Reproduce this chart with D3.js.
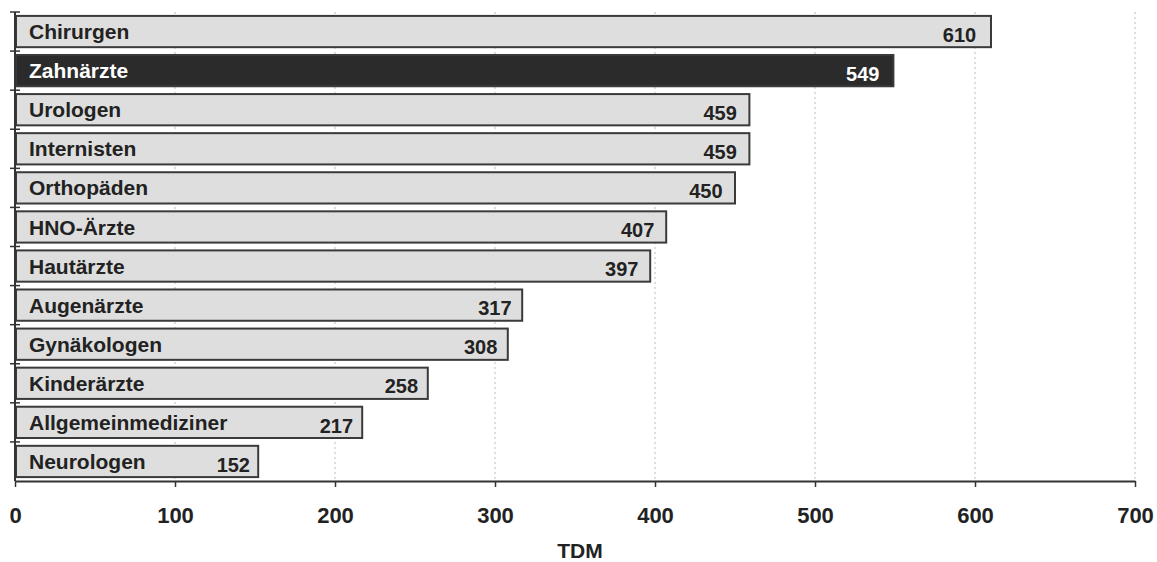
<!DOCTYPE html>
<html>
<head>
<meta charset="utf-8">
<script src="https://cdn.jsdelivr.net/npm/d3@7"></script>
<style>
  html, body { margin: 0; padding: 0; background: #fff; }
  svg { display: block; font-family: "Liberation Sans", Arial, sans-serif; }
</style>
</head>
<body>
<svg id="chart" width="1157" height="562"></svg>
<script>
// Fachgruppen, top to bottom
const categories = ["Chirurgen", "Zahnärzte", "Urologen", "Internisten", "Orthopäden", "HNO-Ärzte",
  "Hautärzte", "Augenärzte", "Gynäkologen", "Kinderärzte", "Allgemeinmediziner", "Neurologen"];
const values = [610, 549, 459, 459, 450, 407, 397, 317, 308, 258, 217, 152];
const highlighted = ["Zahnärzte"];
const xTicks = [0, 100, 200, 300, 400, 500, 600, 700];
const xTitle = "TDM";

const svg = d3.select("#chart");
const margin = { left: 15, right: 22, top: 12, bottom: 81 };
const W = 1157, H = 562;

const x = d3.scaleLinear().domain([0, 700]).range([margin.left, W - margin.right]);
const y = d3.scaleBand().domain(categories).range([margin.top, H - margin.bottom]).paddingInner(0.2).paddingOuter(0.1);

// dotted vertical gridlines
svg.append("g").selectAll("line").data(xTicks.slice(1)).join("line")
  .attr("x1", d => x(d)).attr("x2", d => x(d))
  .attr("y1", margin.top).attr("y2", H - margin.bottom)
  .attr("stroke", "#bbb").attr("stroke-width", 1).attr("stroke-dasharray", "2,3");

const data = categories.map((c, i) => ({ cat: c, val: values[i], hi: highlighted.includes(c) }));

// bars
svg.append("g").selectAll("rect").data(data).join("rect")
  .attr("x", x(0) + 1)
  .attr("y", d => y(d.cat))
  .attr("width", d => x(d.val) - x(0) - 1)
  .attr("height", y.bandwidth())
  .attr("fill", d => d.hi ? "#2b2b2b" : "#dedede")
  .attr("stroke", "#3a3a3a")
  .attr("stroke-width", 2);

// category labels inside bars
svg.append("g").selectAll("text").data(data).join("text")
  .attr("x", x(0) + 14)
  .attr("y", d => y(d.cat) + y.bandwidth() / 2)
  .attr("dy", "0.36em")
  .attr("font-size", 21).attr("font-weight", "bold")
  .attr("fill", d => d.hi ? "#fff" : "#222")
  .text(d => d.cat);

// value labels near bar ends (inset grows slightly with bar length)
svg.append("g").selectAll("text").data(data).join("text")
  .attr("x", d => x(d.val) - (6 + (x(d.val) - x(0)) * 0.009))
  .attr("y", d => y(d.cat) + y.bandwidth() / 2 + 3)
  .attr("dy", "0.36em")
  .attr("text-anchor", "end")
  .attr("font-size", 20).attr("font-weight", "bold")
  .attr("fill", d => d.hi ? "#fff" : "#222")
  .text(d => d.val);

// x axis
const xAxis = svg.append("g")
  .attr("transform", `translate(0,${H - margin.bottom})`)
  .call(d3.axisBottom(x).tickValues(xTicks).tickSize(6).tickPadding(20).tickSizeOuter(0));
xAxis.select(".domain").attr("stroke", "#333").attr("stroke-width", 2);
xAxis.selectAll(".tick line").attr("stroke", "#333").attr("stroke-width", 1.5);
xAxis.selectAll(".tick text")
  .attr("font-size", 22).attr("font-weight", "bold").attr("fill", "#222")
  .attr("font-family", "Liberation Sans, Arial, sans-serif");

// y axis: line with ticks crossing at band boundaries
const yAxisG = svg.append("g");
yAxisG.append("line")
  .attr("x1", x(0)).attr("x2", x(0))
  .attr("y1", margin.top).attr("y2", H - margin.bottom)
  .attr("stroke", "#333").attr("stroke-width", 2);
const step = y.step();
const boundaries = d3.range(categories.length).map(i => y(categories[i]) - (step - y.bandwidth()) / 2);
yAxisG.selectAll("line.tk").data(boundaries).join("line").attr("class", "tk")
  .attr("x1", x(0) - 5).attr("x2", x(0) + 5)
  .attr("y1", d => d).attr("y2", d => d)
  .attr("stroke", "#333").attr("stroke-width", 1.5);

// axis title
svg.append("text")
  .attr("x", (x(0) + x(700)) / 2 + 5)
  .attr("y", 558)
  .attr("text-anchor", "middle")
  .attr("font-size", 21).attr("font-weight", "bold").attr("fill", "#222")
  .text(xTitle);
</script>
</body>
</html>
